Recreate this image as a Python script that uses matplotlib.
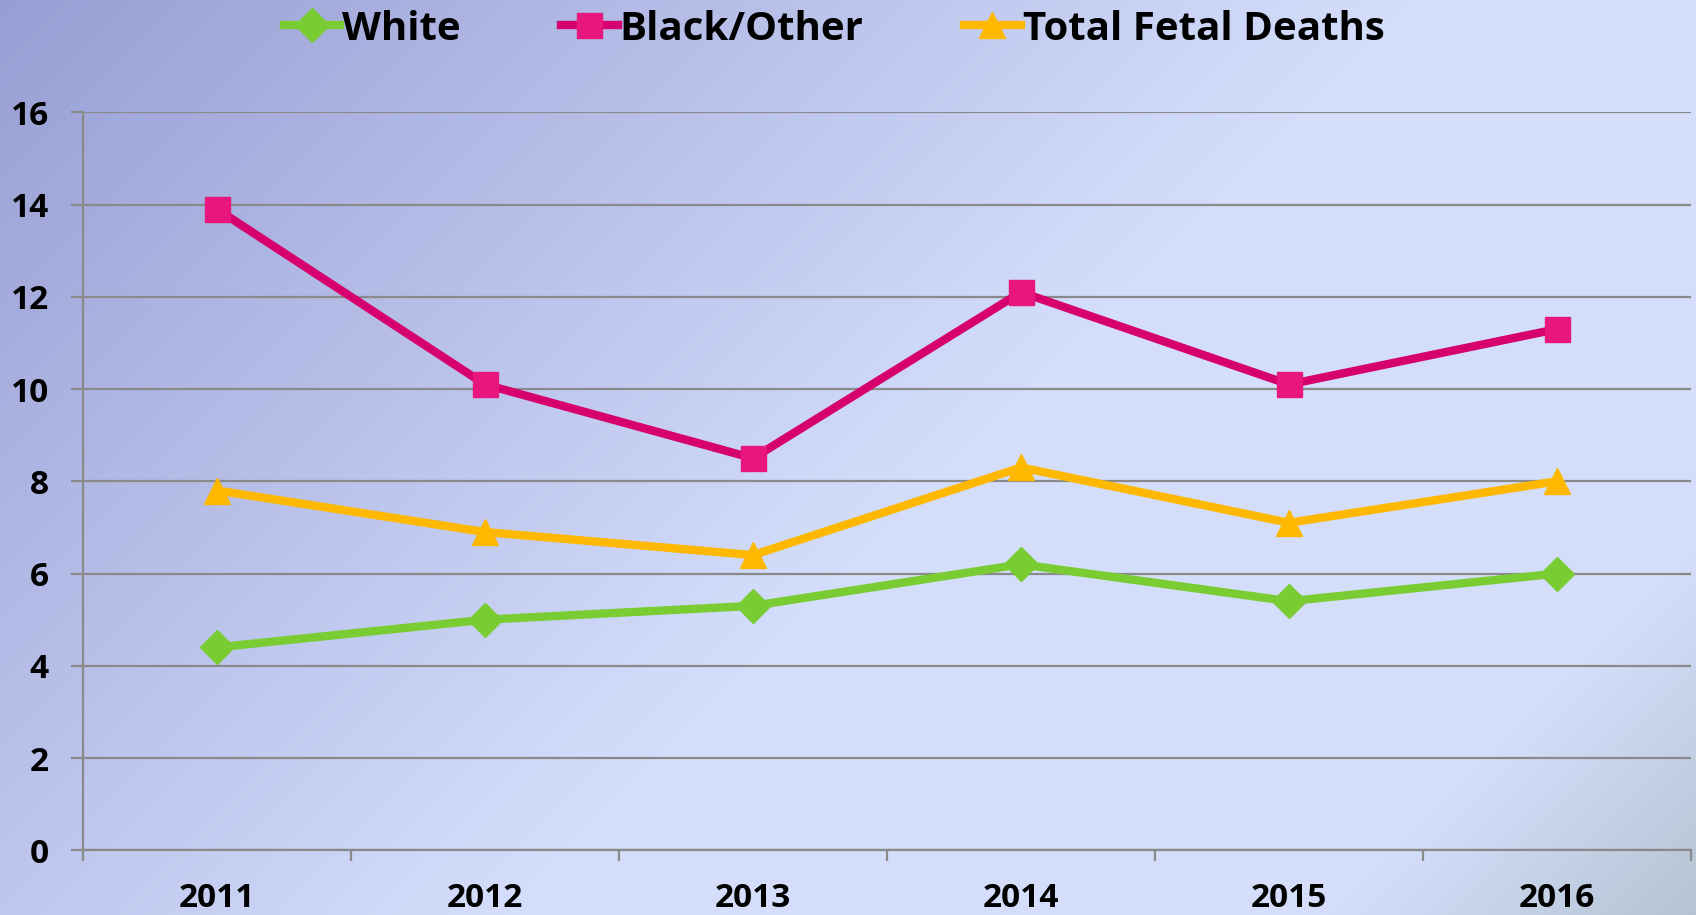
import numpy as np
import matplotlib
matplotlib.use("Agg")
import matplotlib.pyplot as plt
from matplotlib.lines import Line2D

years = ["2011", "2012", "2013", "2014", "2015", "2016"]
white = [4.4, 5.0, 5.3, 6.2, 5.4, 6.0]
black_other = [13.9, 10.1, 8.5, 12.1, 10.1, 11.3]
total_fetal = [7.8, 6.9, 6.4, 8.3, 7.1, 8.0]
y_ticks = [0, 2, 4, 6, 8, 10, 12, 14, 16]

W, H = 1696, 915
fig = plt.figure(figsize=(W / 100, H / 100), dpi=100)

# background gradient
bg = fig.add_axes([0, 0, 1, 1], zorder=-10)
yy, xx = np.mgrid[0:H, 0:W]
u = (xx + yy) / (W + H)
stops = [0.0, 0.55, 0.86, 1.0]
cols = np.array([[152, 158, 212], [213, 223, 252], [212, 222, 251], [180, 196, 210]]) / 255.0
img = np.zeros((H, W, 3))
for c in range(3):
    img[..., c] = np.interp(u, stops, cols[:, c])
bg.imshow(img, aspect="auto", extent=[0, 1, 0, 1], origin="upper")
bg.axis("off")

ax = fig.add_axes([83 / W, 1 - 850.3 / H, (1691 - 83) / W, (850.3 - 112.3) / H])
ax.patch.set_alpha(0)

x = np.arange(len(years))
lw = 6.0
ms = 18
ax.plot(x, white, color="#7ACC33", lw=lw, marker="D", ms=ms * 0.95, mfc="#7ACC33", mec="#7ACC33", zorder=3)
ax.plot(x, black_other, color="#D6006F", lw=lw, marker="s", ms=ms, mfc="#E8177D", mec="#E8177D", zorder=3)
ax.plot(x, total_fetal, color="#FFB800", lw=lw, marker="^", ms=ms * 1.05, mfc="#FFB800", mec="#FFB800", zorder=3)

ax.set_xlim(-0.5, len(years) - 0.5)
ax.set_ylim(0, 16)
ax.set_yticks(y_ticks)
ax.set_yticklabels([str(v) for v in y_ticks])
ax.grid(axis="y", color="#8A8A8A", lw=1.6)
ax.set_axisbelow(True)

for s in ["top", "right"]:
    ax.spines[s].set_visible(False)
for s in ["left", "bottom"]:
    ax.spines[s].set_color("#8A8A8A")
    ax.spines[s].set_linewidth(1.6)

font = "Open Sans"
ax.set_xticks(x)
ax.set_xticklabels(years)
ax.set_xticks(np.arange(-0.5, len(years)), minor=True)
ax.tick_params(axis="x", which="major", length=0, pad=23)
ax.tick_params(axis="x", which="minor", length=8, width=1.6, color="#8A8A8A", direction="out")
ax.tick_params(axis="y", length=8.5, width=1.6, color="#8A8A8A", pad=16)
for lab in ax.get_xticklabels() + ax.get_yticklabels():
    lab.set_fontfamily(font)
    lab.set_fontweight("bold")
    lab.set_fontsize(24)
    lab.set_color("black")

handles = [
    Line2D([], [], color="#7ACC33", lw=lw, marker="D", ms=ms * 0.95, mfc="#7ACC33", mec="#7ACC33"),
    Line2D([], [], color="#D6006F", lw=lw, marker="s", ms=ms, mfc="#E8177D", mec="#E8177D"),
    Line2D([], [], color="#FFB800", lw=lw, marker="^", ms=ms * 1.05, mfc="#FFB800", mec="#FFB800"),
]
leg = fig.legend(handles, ["White", "Black/Other", "Total Fetal Deaths"], loc="center",
                 bbox_to_anchor=(834 / W, 1 - 29 / H), ncol=3, frameon=False,
                 handlelength=1.4, handletextpad=0.05, columnspacing=2.5,
                 prop={"family": font, "weight": "bold", "size": 29})

fig.savefig("out.png", dpi=100)
